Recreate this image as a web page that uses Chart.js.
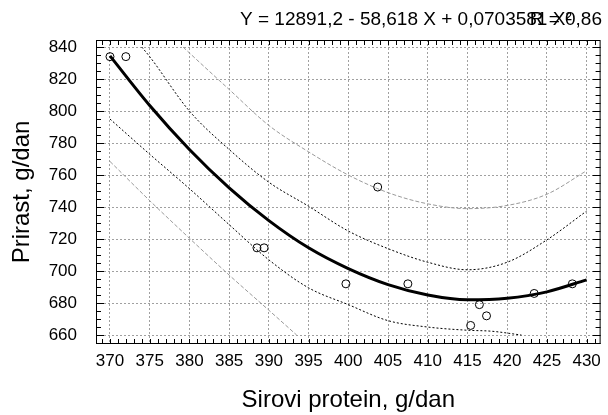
<!DOCTYPE html>
<html>
<head>
<meta charset="utf-8">
<script src="https://cdn.jsdelivr.net/npm/chart.js@4.4.1/dist/chart.umd.min.js"></script>
<style>
  html, body { margin: 0; padding: 0; background: #fff; }
  #wrap { width: 608px; height: 415px; }
</style>
</head>
<body>
<div id="wrap"><canvas id="chart" width="608" height="415"></canvas></div>
<script>
// observed points
const obsX = [370, 372, 388.5, 389.4, 399.7, 403.7, 407.5, 415.4, 416.5, 417.4, 423.4, 428.2];
const obsY = [834, 834, 714.5, 714.5, 692, 752.5, 692, 666, 679, 672, 686, 692];

// fitted quadratic
const fitX = [370, 375, 380, 385, 390, 395, 400, 405, 410, 415, 420, 425, 430];
const fitY = [834.5, 803.5, 776, 752, 731.5, 714.5, 701.5, 691.5, 685, 682, 683, 687, 694.5];

// inner (dotted) band
const confUpX = [374, 375, 380, 385, 390, 395, 400, 405, 410, 415, 420, 425, 430];
const confUpY = [840, 834, 800, 776, 755.5, 740.5, 725, 714, 705.5, 700.8, 705.5, 719.5, 737.5];
const confLoX = [370, 375, 380, 385, 390, 395, 400, 405, 410, 415, 418, 421.8];
const confLoY = [795, 773, 751.5, 729, 707, 689.5, 679, 669, 665, 663, 662.4, 660];

// outer (grey) band
const predUpX = [379.2, 380, 385, 390, 395, 400, 405, 410, 415, 420, 425, 430];
const predUpY = [840, 836.3, 813.5, 791, 774.5, 760, 749, 742, 739, 741, 748, 762.7];
const predLoX = [370, 375, 380, 385, 390, 393.5];
const predLoY = [768.5, 744, 720.5, 697.5, 675.5, 660];

// axes
const xTicks = [370, 375, 380, 385, 390, 395, 400, 405, 410, 415, 420, 425, 430];
const yTicks = [660, 680, 700, 720, 740, 760, 780, 800, 820, 840];
const xTitle = 'Sirovi protein, g/dan';
const yTitle = 'Prirast, g/dan';
const eqText = 'Y = 12891,2 - 58,618 X + 0,0703581 X²';
const rText = 'R = 0,86';

const FONT = '"Liberation Sans", Arial, sans-serif';

function pts(xs, ys) {
    return xs.map((v, i) => ({ x: v, y: ys[i] }));
}

function curve(xs, ys, color, width, dash) {
    return {
        data: pts(xs, ys),
        showLine: true,
        borderColor: color,
        borderWidth: width,
        borderDash: dash,
        pointRadius: 0,
        fill: false,
        cubicInterpolationMode: 'monotone'
    };
}

// box, inward tick marks and the equation on top
const frame = {
    id: 'frame',
    afterDraw(chart) {
        const { ctx, chartArea: a, scales: { x, y } } = chart;
        ctx.save();
        ctx.strokeStyle = '#000';
        ctx.lineWidth = 1;
        ctx.strokeRect(a.left + 0.5, a.top + 0.5, a.right - a.left - 1, a.bottom - a.top - 1);

        ctx.beginPath();
        for (let v = 369; v <= 431; v++) {
            const px = Math.round(x.getPixelForValue(v)) + 0.5;
            ctx.moveTo(px, a.bottom);
            ctx.lineTo(px, a.bottom - 5);
            ctx.moveTo(px, a.top);
            ctx.lineTo(px, a.top + 5);
        }
        for (let v = 655; v <= 840; v += 5) {
            const py = Math.round(y.getPixelForValue(v)) + 0.5;
            const len = v % 20 === 0 ? 8 : 5;
            ctx.moveTo(a.left, py);
            ctx.lineTo(a.left + len, py);
            ctx.moveTo(a.right, py);
            ctx.lineTo(a.right - len, py);
        }
        ctx.stroke();

        ctx.fillStyle = '#000';
        ctx.font = '19px ' + FONT;
        ctx.textBaseline = 'middle';
        ctx.textAlign = 'left';
        ctx.fillText(eqText, 240, 20);
        ctx.textAlign = 'right';
        ctx.fillText(rText, 602, 20);
        ctx.restore();
    }
};

const ctx = document.getElementById('chart').getContext('2d');
new Chart(ctx, {
    type: 'scatter',
    data: {
        datasets: [
            {
                data: pts(obsX, obsY),
                pointStyle: 'circle',
                pointRadius: 4,
                pointBorderWidth: 1,
                pointBorderColor: '#000',
                pointBackgroundColor: 'rgba(0,0,0,0)',
                showLine: false
            },
            curve(fitX, fitY, '#000', 3, []),
            curve(confUpX, confUpY, '#000', 1, [2, 2]),
            curve(confLoX, confLoY, '#000', 1, [2, 2]),
            curve(predUpX, predUpY, '#9a9a9a', 1, [4, 2]),
            curve(predLoX, predLoY, '#9a9a9a', 1, [4, 2])
        ]
    },
    options: {
        responsive: false,
        animation: false,
        layout: { padding: { top: 40, right: 7, left: 0, bottom: 0 } },
        plugins: {
            legend: { display: false },
            tooltip: { enabled: false }
        },
        scales: {
            x: {
                type: 'linear',
                min: 368.24,
                max: 431.76,
                afterBuildTicks: s => { s.ticks = xTicks.map(v => ({ value: v })); },
                afterFit: s => { s.height = 71; },
                grid: { color: '#a0a0a0', lineWidth: 1, drawTicks: false },
                border: { display: false, dash: [2, 2] },
                ticks: {
                    color: '#000',
                    padding: 7,
                    maxRotation: 0,
                    font: { family: FONT, size: 17 },
                    callback: v => v
                },
                title: {
                    display: true,
                    text: xTitle,
                    color: '#000',
                    font: { family: FONT, size: 24 },
                    padding: { top: 0, bottom: 0 }
                }
            },
            y: {
                type: 'linear',
                min: 654.4,
                max: 844.4,
                afterBuildTicks: s => { s.ticks = yTicks.map(v => ({ value: v })); },
                afterFit: s => { s.width = 96; },
                grid: { color: '#a0a0a0', lineWidth: 1, drawTicks: false },
                border: { display: false, dash: [2, 2] },
                ticks: {
                    color: '#000',
                    padding: 19,
                    font: { family: FONT, size: 17 },
                    callback: v => v
                },
                title: {
                    display: true,
                    text: yTitle,
                    color: '#000',
                    font: { family: FONT, size: 24 },
                    padding: { top: 8, bottom: 0 }
                }
            }
        }
    },
    plugins: [frame]
});
</script>
</body>
</html>
